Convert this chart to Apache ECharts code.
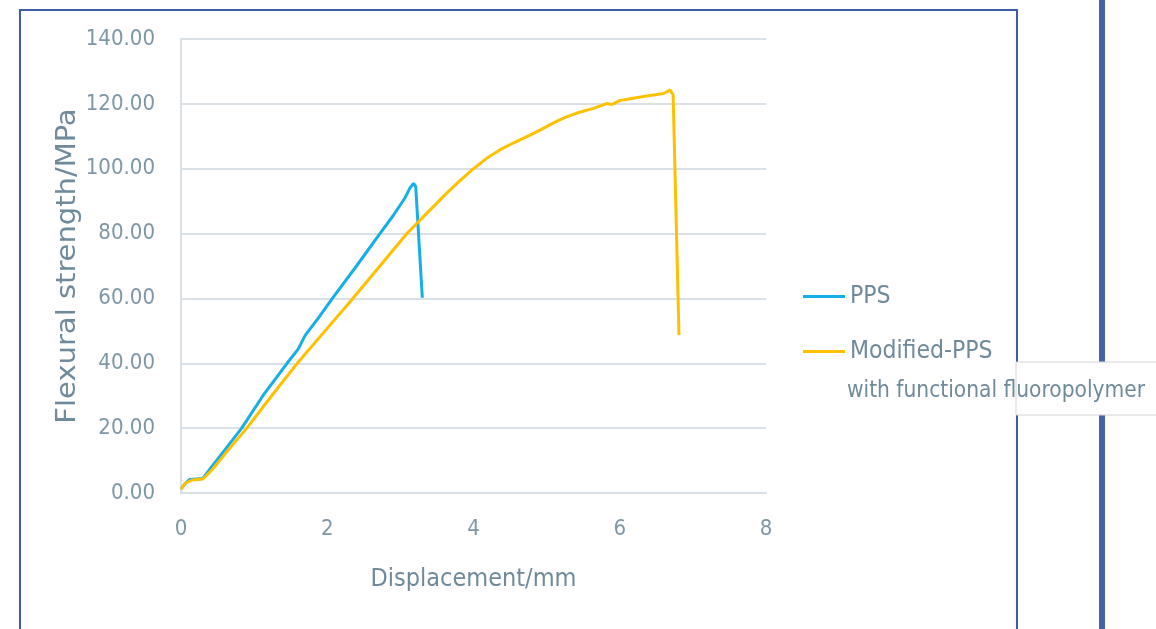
<!DOCTYPE html>
<html>
<head>
<meta charset="utf-8">
<style>
html,body{margin:0;padding:0;background:#fff;}
#chart{width:1156px;height:629px;}
</style>
<script src="https://cdn.jsdelivr.net/npm/echarts@6/dist/echarts.min.js"></script>
</head>
<body>
<div id="chart"></div>
<script>
// Data: [displacement mm, flexural strength MPa]
const seriesNames = ['PPS', 'Modified-PPS'];
const legendSubtitle = 'with functional fluoropolymer';
const xAxisTitle = 'Displacement/mm';
const yAxisTitle = 'Flexural strength/MPa';
const xTicks = { min: 0, max: 8, interval: 2 };
const yTicks = { min: 0, max: 140, interval: 20 };

const ppsData = [
  [0,1.2],[0.06,3],[0.12,4.2],[0.3,4.5],[0.42,8.1],[0.6,13.3],[0.83,20],[1.12,30],
  [1.45,40],[1.6,44.3],[1.7,48.7],[1.88,54],[2.07,60],[2.4,70],[2.72,80],
  [2.9,85.5],[3.06,90.9],[3.13,94],[3.18,95.5],[3.21,94.5],[3.30,60.2]
];
const modifiedData = [
  [0,1.2],[0.06,3],[0.15,4.0],[0.3,4.3],[0.42,7],[0.6,12],[0.9,20],[1.24,30],
  [1.59,40],[1.97,50],[2.35,60],[2.72,70],[3.09,80],[3.35,86],[3.63,92.4],[3.8,96],
  [4.0,100],[4.18,103.2],[4.36,105.8],[4.55,108],[4.73,109.9],[4.91,111.9],
  [5.1,114.2],[5.27,116],[5.45,117.4],[5.64,118.6],[5.82,120.1],[5.89,119.8],
  [6.0,121],[6.2,121.8],[6.37,122.4],[6.6,123.2],[6.69,124.3],[6.73,122.7],[6.81,48.7]
];

const textColor = '#7d97a7';
const nameColor = '#6f8a9b';
const gridColor = '#d9e1e7';
const tickFont = '"DejaVu Sans Condensed", "DejaVu Sans", "Noto Sans", sans-serif';
const nameFont = '"DejaVu Sans Condensed", "DejaVu Sans", "Noto Sans", sans-serif';

const chart = echarts.init(document.getElementById('chart'));
chart.setOption({
  backgroundColor: '#ffffff',
  animation: false,
  grid: { left: 181, top: 39, right: 390, bottom: 136, containLabel: false },
  xAxis: {
    type: 'value', min: xTicks.min, max: xTicks.max, interval: xTicks.interval,
    name: xAxisTitle, nameLocation: 'middle', nameGap: 74,
    nameTextStyle: { color: nameColor, fontSize: 25, fontFamily: nameFont },
    axisLine: { show: true, lineStyle: { color: gridColor, width: 2 } },
    axisTick: { show: false },
    splitLine: { show: false },
    axisLabel: { color: textColor, fontSize: 22, fontFamily: tickFont, margin: 25 }
  },
  yAxis: {
    type: 'value', min: yTicks.min, max: yTicks.max, interval: yTicks.interval,
    axisLine: { show: true, lineStyle: { color: gridColor, width: 2 } },
    axisTick: { show: false },
    splitLine: { show: true, lineStyle: { color: gridColor, width: 2 } },
    axisLabel: { color: textColor, fontSize: 22, fontFamily: tickFont, margin: 26,
      formatter: v => v.toFixed(2) }
  },
  legend: {
    orient: 'vertical', left: 798, top: 279,
    itemWidth: 42, itemHeight: 3, itemGap: 30,
    icon: 'rect',
    textStyle: { color: nameColor, fontSize: 24.5, fontFamily: nameFont, lineHeight: 24 },
    data: seriesNames
  },
  series: [
    { name: seriesNames[0], type: 'line', data: ppsData, showSymbol: false,
      lineStyle: { color: '#15afe8', width: 3 }, itemStyle: { color: '#15afe8' }, z: 2 },
    { name: seriesNames[1], type: 'line', data: modifiedData, showSymbol: false,
      lineStyle: { color: '#ffc000', width: 3 }, itemStyle: { color: '#ffc000' }, z: 3 }
  ],
  graphic: [
    { type: 'rect', z: 0, silent: true,
      shape: { x: 20, y: 10, width: 997, height: 650 },
      style: { fill: 'none', stroke: '#3d5da6', lineWidth: 2 } },
    { type: 'rect', z: 0, silent: true,
      shape: { x: 1099, y: 0, width: 6, height: 629 },
      style: { fill: '#4464a8' } },
    { type: 'rect', z: 10, silent: true,
      shape: { x: 1016, y: 362, width: 150, height: 53 },
      style: { fill: '#ffffff', stroke: '#d4d4d4', lineWidth: 1 } },
    { type: 'text', z: 11, silent: true, x: 847, y: 380,
      style: { text: legendSubtitle, fill: nameColor, fontSize: 22.5, fontFamily: nameFont,
        textAlign: 'left', textVerticalAlign: 'top' } },
    { type: 'text', z: 11, silent: true, x: 68, y: 266, rotation: Math.PI / 2,
      scaleX: 1.24, scaleY: 1,
      style: { text: yAxisTitle, fill: nameColor, fontSize: 26, fontFamily: nameFont,
        textAlign: 'center', textVerticalAlign: 'middle' } }
  ]
});
</script>
</body>
</html>
